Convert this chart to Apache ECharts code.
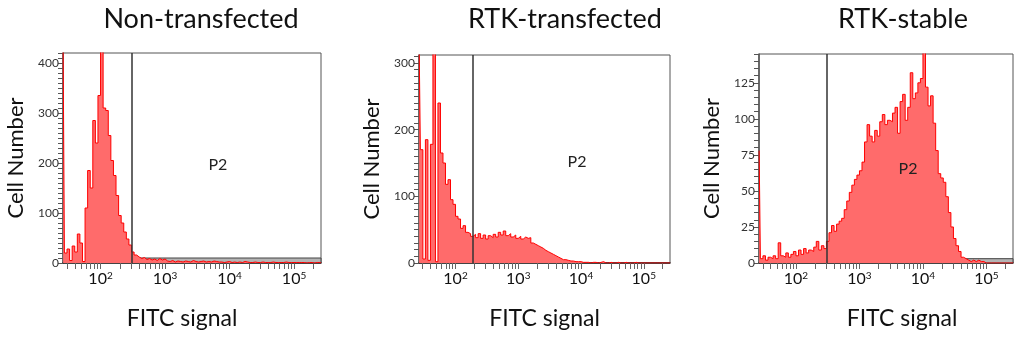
<!DOCTYPE html>
<html>
<head>
<meta charset="utf-8">
<script src="https://cdn.jsdelivr.net/npm/echarts@6/dist/echarts.min.js"></script>
<style>
  html, body { margin: 0; padding: 0; background: #fff; }
  #main { width: 1024px; height: 338px; }
</style>
</head>
<body>
<div id="main"></div>
<script>
// histogram bins: FITC channel in log10 units, one bin every 0.04 decade from 10^1.42
var binStart = 1.42
var binStep = 0.04

var titles = ['Non-transfected', 'RTK-transfected', 'RTK-stable']

// cell counts per bin
var nonTransfected = [
  430, 20, 28, 5, 34, 22, 58, 40, 3, 110,
  185, 150, 285, 240, 335, 430, 310, 305, 255, 205,
  175, 135, 95, 80, 62, 48, 36, 22, 16, 12,
  9, 11, 7, 9, 6, 8, 5, 9, 6, 8,
  4, 3, 5, 2, 4, 3, 2, 4, 3, 2,
  5, 3, 2, 3, 4, 2, 3, 2, 4, 3,
  2, 2, 1, 2, 3, 1, 2, 1, 2, 1,
  3, 2, 1, 1, 2, 1, 1, 2, 1, 1,
  1, 2, 1, 1, 1, 1, 2, 1, 1, 1,
  1, 1, 1, 1, 0, 1, 1, 0, 1, 1, 0
]
var rtkTransfected = [
  330, 170, 6, 185, 4, 178, 330, 2, 240, 165,
  150, 118, 125, 95, 88, 70, 66, 52, 56, 46,
  44, 40, 43, 38, 44, 37, 42, 36, 41, 38,
  43, 39, 46, 42, 48, 41, 44, 39, 42, 37,
  40, 36, 39, 37, 38, 30, 28, 26, 24, 22,
  19, 17, 15, 13, 11, 9, 7, 5, 5, 4,
  3, 3, 2, 2, 2, 1, 1, 1, 0, 1,
  1, 0, 1, 2, 0, 0, 1, 0, 0, 1,
  0, 0, 1, 0, 0, 0, 1, 0, 0, 0,
  0, 0, 0, 0, 0, 0, 0, 0, 0, 0, 0
]
var rtkStable = [
  78, 3, 5, 2, 4, 3, 5, 3, 14, 5,
  4, 7, 4, 6, 8, 5, 9, 6, 10, 7,
  9, 8, 11, 15, 9, 12, 10, 15, 21, 26,
  22, 27, 29, 31, 37, 43, 49, 54, 58, 61,
  64, 70, 84, 96, 88, 84, 92, 88, 98, 103,
  96, 99, 98, 104, 108, 90, 112, 117, 99, 108,
  132, 114, 118, 125, 128, 148, 122, 109, 116, 97,
  78, 62, 59, 56, 46, 35, 25, 17, 12, 8,
  4, 3, 2, 1, 2, 1, 2, 1, 1, 0,
  0, 0, 0, 0, 0, 0, 0, 0, 0, 0, 0
]

var decadeLabels = [2, 3, 4, 5]
var gates = [2.488, 2.279, 2.489]
var p2Marks = [[3.82, 196], [3.936, 151], [3.764, 65]]
var yMax = [420, 312, 145]
var yLabels = [[0, 100, 200, 300, 400], [0, 100, 200, 300], [0, 25, 50, 75, 100, 125]]
var yTickStep = [10, 10, 5]

var xMin = 1.418
var xMax = 5.418
var fontFamily = 'Lato, "Open Sans", sans-serif'

// log tick marks 2..9 x 10^n inside the visible range
var xTicks = []
for (var n = 1; n <= 5; n++) {
  for (var k = 1; k <= 9; k++) {
    var v = n + Math.log10(k)
    if (v >= xMin && v <= xMax) xTicks.push(v)
  }
}

var layout = [
  { left: 63, top: 53, width: 258, height: 210, band: 10, namePad: [0, 20, 0, 0] },
  { left: 419, top: 55, width: 251, height: 208, band: 0, namePad: [0, 0, 0, 0] },
  { left: 759, top: 54, width: 254, height: 209, band: 3, namePad: [0, 0, 0, 32] }
]
var titleX = [201, 565, 903]
var allCounts = [nonTransfected, rtkTransfected, rtkStable]

var grids = [], xAxes = [], yAxes = [], series = [], graphics = []

layout.forEach(function (g, i) {
  grids.push({
    left: g.left, top: g.top, width: g.width, height: g.height,
    show: true, borderColor: '#555', borderWidth: 1, backgroundColor: 'transparent'
  })

  xAxes.push({
    type: 'value', gridIndex: i, min: xMin, max: xMax,
    axisLine: { show: true, onZero: false, lineStyle: { color: '#222', width: 1.5 } },
    axisTick: { show: true, length: 6, customValues: xTicks, lineStyle: { color: '#666' } },
    axisLabel: {
      customValues: decadeLabels, margin: 8, color: '#111',
      formatter: function (v) { return '{b|10}{s|' + Math.round(v) + '}' },
      rich: {
        b: { fontSize: 16, fontFamily: fontFamily, color: '#111' },
        s: { fontSize: 10, fontFamily: fontFamily, color: '#111', verticalAlign: 'top', padding: [0, 0, 6, 0] }
      }
    },
    splitLine: { show: false },
    name: 'FITC signal', nameLocation: 'middle', nameGap: 44,
    nameTextStyle: { fontSize: 23, fontFamily: fontFamily, color: '#111', padding: g.namePad }
  })

  var ticks = []
  for (var t = 0; t <= yMax[i]; t += yTickStep[i]) ticks.push(t)
  yAxes.push({
    type: 'value', gridIndex: i, min: 0, max: yMax[i],
    axisLine: { show: true, lineStyle: { color: '#555', width: 1.5 } },
    axisTick: { show: true, length: 5, customValues: ticks, lineStyle: { color: '#555' } },
    axisLabel: { customValues: yLabels[i], fontSize: 12, color: '#333', margin: 4, fontFamily: fontFamily },
    splitLine: { show: false },
    name: 'Cell Number', nameLocation: 'middle', nameGap: 36, nameRotate: 90,
    nameTextStyle: { fontSize: 22, fontFamily: fontFamily, color: '#111' }
  })

  var s = {
    type: 'line', xAxisIndex: i, yAxisIndex: i,
    data: allCounts[i].map(function (c, j) { return [binStart + j * binStep, c] }),
    symbol: 'none', clip: true, step: 'middle',
    lineStyle: { color: '#ff0000', width: 1 },
    areaStyle: { color: '#ff6b6b', opacity: 1 },
    markLine: {
      silent: true, symbol: 'none', label: { show: false },
      lineStyle: { color: '#333', width: 1.5, type: 'solid' },
      data: [{ xAxis: gates[i] }]
    },
    markPoint: {
      symbol: 'circle', symbolSize: 0,
      label: { show: true, position: 'inside', formatter: 'P2', fontSize: 16, color: '#222', fontFamily: fontFamily },
      data: [{ coord: p2Marks[i] }]
    }
  }
  if (g.band) {
    s.markArea = {
      silent: true,
      itemStyle: { color: '#b4b4b4', borderColor: '#444', borderWidth: 1 },
      data: [[{ xAxis: gates[i], yAxis: 0 }, { xAxis: xMax, yAxis: g.band }]]
    }
  }
  series.push(s)

  graphics.push({
    type: 'text', x: titleX[i], y: 19,
    style: { text: titles[i], fill: '#111', font: '27px ' + fontFamily, textAlign: 'center', textVerticalAlign: 'middle' }
  })
})

var myChart = echarts.init(document.getElementById('main'))
myChart.setOption({
  animation: false,
  backgroundColor: '#fff',
  grid: grids,
  xAxis: xAxes,
  yAxis: yAxes,
  series: series,
  graphic: graphics
})
</script>
</body>
</html>
